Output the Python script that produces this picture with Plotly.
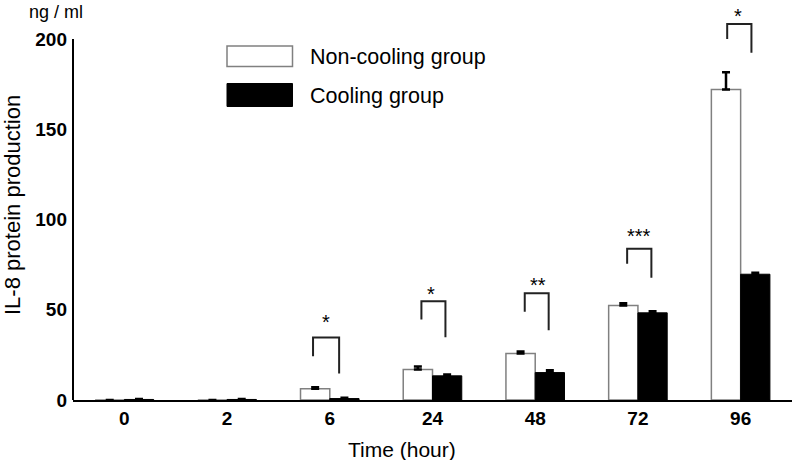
import plotly.graph_objects as go

# ---- data ----
time_labels = ["0", "2", "6", "24", "48", "72", "96"]
non_cooling = [0, 0, 6.2, 16.9, 25.8, 52.4, 172.0]
non_cooling_err = [0, 0, 0.9, 1.6, 1.1, 1.2, 9.6]
cooling = [0.3, 0.3, 0.8, 13.4, 15.2, 48.3, 69.7]
cooling_err = [0.3, 0.3, 0.5, 0.7, 1.3, 0.9, 0.8]
y_ticks = [0, 50, 100, 150, 200]

# significance marks: (category index, label, top, left-bottom, right-bottom,
#                      left off, right off, star x off, star y)
sig_marks = [
    (2, "*", 34.6, 24.3, 14.7, -0.163, 0.091, -0.04, 43.5),
    (3, "*", 54.7, 44.6, 34.8, -0.108, 0.126, -0.01, 59.0),
    (4, "**", 59.2, 48.9, 38.7, -0.102, 0.131, 0.028, 63.6),
    (5, "***", 83.8, 75.5, 67.7, -0.105, 0.131, 0.015, 91.0),
    (6, "*", 208.4, 200.1, 192.4, -0.131, 0.105, -0.03, 213.0),
]

FONT = "Liberation Sans, Arial, sans-serif"
W, H = 792, 460
ML, MR, MT, MB = 73, 0, 3, 60
PW, PH = W - ML - MR, H - MT - MB


def px(x):
    return (x - ML) / PW


def py(y):
    return (H - MB - y) / PH


xs = list(range(len(time_labels)))

fig = go.Figure()
fig.add_trace(go.Bar(
    x=xs, y=non_cooling, width=0.285, offset=-0.285,
    marker=dict(color="white", line=dict(color="#808080", width=1.5)),
    error_y=dict(type="data", array=non_cooling_err, arrayminus=[0] * 7, symmetric=False,
                 color="black", thickness=2.5, width=4),
    name="Non-cooling group", showlegend=False,
))
fig.add_trace(go.Bar(
    x=xs, y=cooling, width=0.285, offset=0,
    marker=dict(color="black", line=dict(color="black", width=1)),
    error_y=dict(type="data", array=cooling_err, arrayminus=[0] * 7, symmetric=False,
                 color="black", thickness=2.5, width=4),
    name="Cooling group", showlegend=False,
))

shapes = []
annotations = []
for idx, lab, top, lb, rb, lo, ro, so, sy in sig_marks:
    xl, xr = idx + lo, idx + ro
    shapes.append(dict(type="path", xref="x", yref="y",
                       path=f"M {xl},{lb} L {xl},{top} L {xr},{top} L {xr},{rb}",
                       line=dict(color="#222", width=2)))
    annotations.append(dict(x=idx + so, y=sy, xref="x", yref="y", text=lab,
                            showarrow=False, yanchor="middle",
                            font=dict(family=FONT, size=20, color="black")))

# y axis line (only up to 200)
shapes.append(dict(type="line", xref="paper", yref="y", x0=0, x1=0, y0=0, y1=200,
                   line=dict(color="black", width=2)))

# legend boxes
shapes.append(dict(type="rect", xref="paper", yref="paper", x0=px(227), x1=px(292.5),
                   y0=py(66.5), y1=py(46), fillcolor="white", line=dict(color="#808080", width=1.5)))
shapes.append(dict(type="rect", xref="paper", yref="paper", x0=px(227), x1=px(292.5),
                   y0=py(106.5), y1=py(83.5), fillcolor="black", line=dict(color="black", width=1)))
annotations.append(dict(x=px(308), y=py(56.5), xref="paper", yref="paper", text="Non-cooling group",
                        showarrow=False, xanchor="left", yanchor="middle",
                        font=dict(family=FONT, size=21.5, color="black")))
annotations.append(dict(x=px(308), y=py(96), xref="paper", yref="paper", text="Cooling group",
                        showarrow=False, xanchor="left", yanchor="middle",
                        font=dict(family=FONT, size=21.5, color="black")))

# axis titles
annotations.append(dict(x=px(402), y=py(449), xref="paper", yref="paper", text="Time (hour)",
                        showarrow=False, xanchor="center", yanchor="middle",
                        font=dict(family=FONT, size=21, color="black")))
annotations.append(dict(x=px(13), y=py(205), xref="paper", yref="paper", text="IL-8 protein production",
                        showarrow=False, xanchor="center", yanchor="middle", textangle=-90,
                        font=dict(family=FONT, size=22, color="black")))
annotations.append(dict(x=px(56), y=py(12), xref="paper", yref="paper", text="ng / ml",
                        showarrow=False, xanchor="center", yanchor="middle",
                        font=dict(family=FONT, size=18, color="black")))

fig.update_layout(
    width=W, height=H,
    margin=dict(l=ML, r=MR, t=MT, b=MB, autoexpand=False),
    paper_bgcolor="white", plot_bgcolor="white",
    barmode="overlay",
    shapes=shapes, annotations=annotations,
    xaxis=dict(range=[-0.5, 6.5], tickmode="array", tickvals=xs, ticktext=time_labels,
               showline=True, linecolor="black", linewidth=2, showgrid=False, zeroline=False,
               ticks="", ticklabelstandoff=0,
               tickfont=dict(family=FONT, size=19, color="black", weight="bold")),
    yaxis=dict(range=[0, 220], tickmode="array", tickvals=y_ticks,
               showline=False, showgrid=False, zeroline=False, ticks="", ticklabelstandoff=5,
               tickfont=dict(family=FONT, size=19, color="black", weight="bold")),
)

fig.write_html("out.html", config={"displayModeBar": False},
               post_script="document.body.style.margin='0';document.body.style.padding='0';")
